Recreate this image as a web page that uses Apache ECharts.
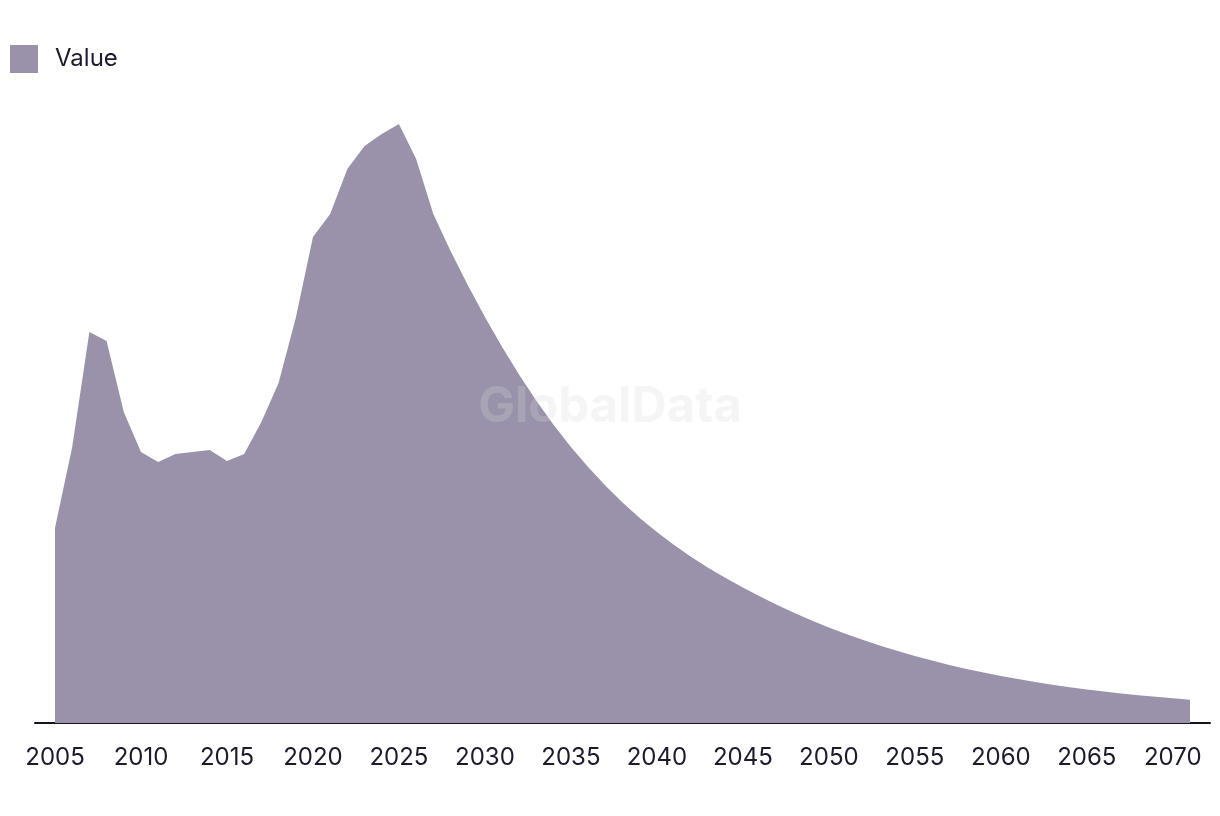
<!DOCTYPE html>
<html>
<head>
<meta charset="utf-8">
<script src="https://cdn.jsdelivr.net/npm/echarts@6/dist/echarts.min.js"></script>
<style>
html,body{margin:0;padding:0;background:#fff;}
#chart{width:1220px;height:816px;}
</style>
</head>
<body>
<div id="chart"></div>
<script>
const years = [2005,2006,2007,2008,2009,2010,2011,2012,2013,2014,2015,2016,2017,2018,2019,2020,
  2021,2022,2023,2024,2025,2026,2027,2028,2029,2030,2031,2032,2033,2034,2035,2036,2037,2038,2039,2040,
  2041,2042,2043,2044,2045,2046,2047,2048,2049,2050,2051,2052,2053,2054,2055,2056,2057,2058,2059,2060,
  2061,2062,2063,2064,2065,2066,2067,2068,2069,2070,2071];
const values = [195,276,391,382,311,271,261,269,271,273,262,269,301,340,405,486,
  509,554,577,589,599,564,509,472,438,406,376,348,322,298,276,256,237.5,220.5,205,191,
  178,166,155,145,135.5,126.5,118,110,102.5,95.5,89,83,77.3,72,67,62.4,58.1,54.1,50.4,47,
  43.9,41,38.3,35.8,33.5,31.4,29.5,27.8,26.2,24.7,23.3];
const seriesName = 'Value';

const chart = echarts.init(document.getElementById('chart'), null, {renderer:'canvas'});
const textColor = '#1c1b2e';
chart.setOption({
  animation: false,
  backgroundColor: '#ffffff',
  legend: {
    left: 5, top: 40,
    itemWidth: 28, itemHeight: 28,
    icon: 'rect',
    data: [seriesName],
    textStyle: { fontFamily: 'Inter', fontSize: 24, color: textColor, padding: [0,0,0,12] }
  },
  graphic: [{
    type: 'text', left: 'center', top: 383, z: 100,
    style: { text: 'GlobalData', font: 'bold 49px Inter', fill: 'rgba(215,215,220,0.25)' }
  }],
  grid: [
    { left: 55, right: 30, top: 73, bottom: 93 },
    { left: 35, right: 10, top: 73, bottom: 93 }
  ],
  xAxis: [
    {
      type: 'category', gridIndex: 0, data: years, boundaryGap: false,
      axisLine: { show: false }, axisTick: { show: false },
      axisLabel: { interval: 4, margin: 23, fontFamily: 'Inter', fontSize: 24, color: textColor }
    },
    {
      type: 'value', gridIndex: 1, min: 0, max: 1,
      axisLine: { show: true, lineStyle: { color: '#15131f', width: 2 } },
      axisTick: { show: false }, axisLabel: { show: false }, splitLine: { show: false }
    }
  ],
  yAxis: [
    { type: 'value', gridIndex: 0, min: 0, max: 650, show: false },
    { type: 'value', gridIndex: 1, min: 0, max: 1, show: false }
  ],
  series: [{
    name: seriesName, type: 'line', xAxisIndex: 0, yAxisIndex: 0,
    data: values, showSymbol: false, symbol: 'none',
    lineStyle: { width: 0 },
    itemStyle: { color: '#9a92aa' },
    areaStyle: { color: '#9a92aa', opacity: 1 }
  }]
});
</script>
</body>
</html>
